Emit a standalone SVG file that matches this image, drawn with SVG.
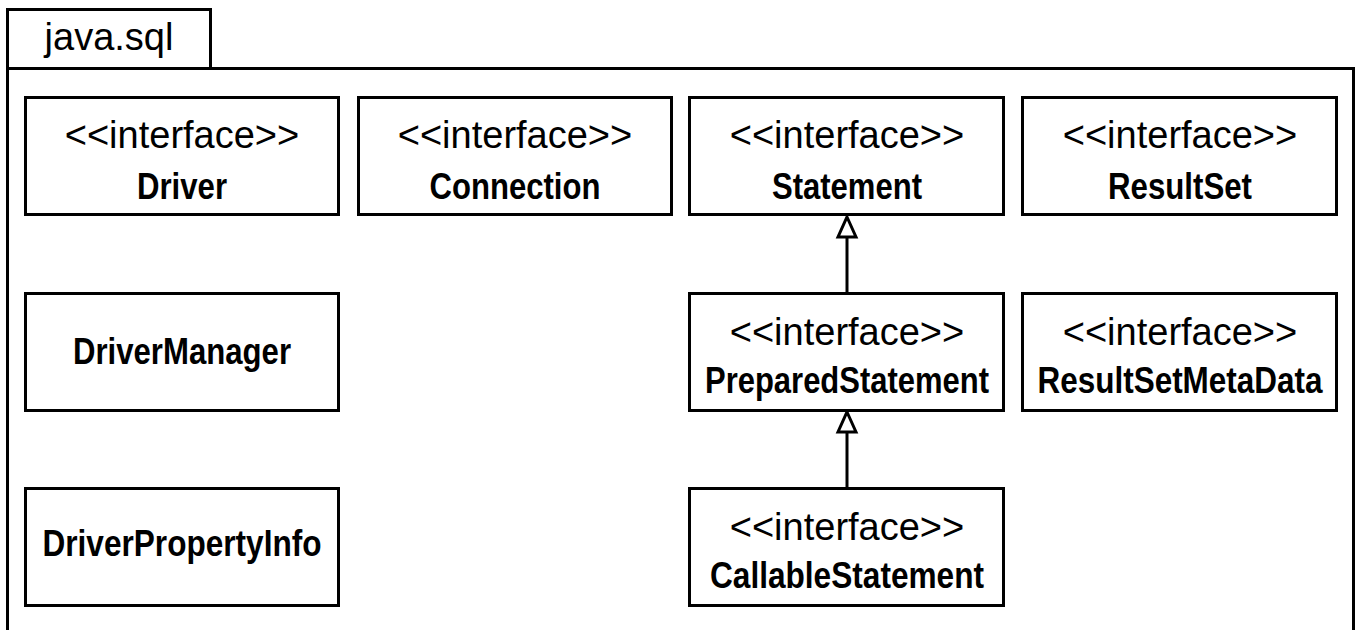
<svg xmlns="http://www.w3.org/2000/svg" width="1361" height="630" viewBox="0 0 1361 630">
<defs>
<style>
.frame{fill:#fff;stroke:#000;stroke-width:3}
.box{fill:#fff;stroke:#000;stroke-width:3}
.st{font-family:"Liberation Sans",Arial,Helvetica,sans-serif;font-size:38px;fill:#000;text-anchor:middle}
.nm{font-family:"Liberation Sans",Arial,Helvetica,sans-serif;font-size:36px;font-weight:bold;fill:#000;text-anchor:middle}
.edge{fill:none;stroke:#000;stroke-width:3}
.head{fill:#fff;stroke:#000;stroke-width:3;stroke-linejoin:miter}
</style>
<marker id="gen" viewBox="-2 -12 26 24" refX="0" refY="0" markerWidth="26" markerHeight="24" markerUnits="userSpaceOnUse" orient="auto">
<path class="head" d="M0,0 L-20,-9 L-20,9 Z" transform="translate(20,0)"/>
</marker>
</defs>
<rect width="1361" height="630" fill="#fff"/>
<g id="package">
<rect class="frame" x="7.5" y="9.5" width="203" height="59"/>
<path class="frame" d="M7.5,640 L7.5,68.5 L1353.5,68.5 L1353.5,640"/>
<text class="st" x="109" y="50">java.sql</text>
</g>
<g id="connectors">
<path class="edge" d="M847,293 L847,237"/>
<polygon class="head" points="847,217 856,237 838,237"/>
<path class="edge" d="M847,488 L847,432"/>
<polygon class="head" points="847,412 856,432 838,432"/>
</g>
<g id="Driver">
<rect class="box" x="25.5" y="97.5" width="313" height="117"/>
<text class="st" x="182" y="148">&lt;&lt;interface&gt;&gt;</text>
<text class="nm" x="182" y="199" textLength="90" lengthAdjust="spacingAndGlyphs">Driver</text>
</g>
<g id="Connection">
<rect class="box" x="358.5" y="97.5" width="313" height="117"/>
<text class="st" x="515" y="148">&lt;&lt;interface&gt;&gt;</text>
<text class="nm" x="515" y="199" textLength="171" lengthAdjust="spacingAndGlyphs">Connection</text>
</g>
<g id="Statement">
<rect class="box" x="689.5" y="97.5" width="314" height="117"/>
<text class="st" x="847" y="148">&lt;&lt;interface&gt;&gt;</text>
<text class="nm" x="847" y="199" textLength="150" lengthAdjust="spacingAndGlyphs">Statement</text>
</g>
<g id="ResultSet">
<rect class="box" x="1022.5" y="97.5" width="314" height="117"/>
<text class="st" x="1180" y="148">&lt;&lt;interface&gt;&gt;</text>
<text class="nm" x="1180" y="199" textLength="144" lengthAdjust="spacingAndGlyphs">ResultSet</text>
</g>
<g id="DriverManager">
<rect class="box" x="25.5" y="293.5" width="313" height="117"/>
<text class="nm" x="182" y="364" textLength="218" lengthAdjust="spacingAndGlyphs">DriverManager</text>
</g>
<g id="PreparedStatement">
<rect class="box" x="689.5" y="293.5" width="314" height="117"/>
<text class="st" x="847" y="345">&lt;&lt;interface&gt;&gt;</text>
<text class="nm" x="847" y="393" textLength="284" lengthAdjust="spacingAndGlyphs">PreparedStatement</text>
</g>
<g id="ResultSetMetaData">
<rect class="box" x="1022.5" y="293.5" width="314" height="117"/>
<text class="st" x="1180" y="345">&lt;&lt;interface&gt;&gt;</text>
<text class="nm" x="1180" y="393" textLength="285" lengthAdjust="spacingAndGlyphs">ResultSetMetaData</text>
</g>
<g id="DriverPropertyInfo">
<rect class="box" x="25.5" y="488.5" width="313" height="117"/>
<text class="nm" x="182" y="556" textLength="279" lengthAdjust="spacingAndGlyphs">DriverPropertyInfo</text>
</g>
<g id="CallableStatement">
<rect class="box" x="689.5" y="488.5" width="314" height="117"/>
<text class="st" x="847" y="540">&lt;&lt;interface&gt;&gt;</text>
<text class="nm" x="847" y="588" textLength="274" lengthAdjust="spacingAndGlyphs">CallableStatement</text>
</g>
</svg>
